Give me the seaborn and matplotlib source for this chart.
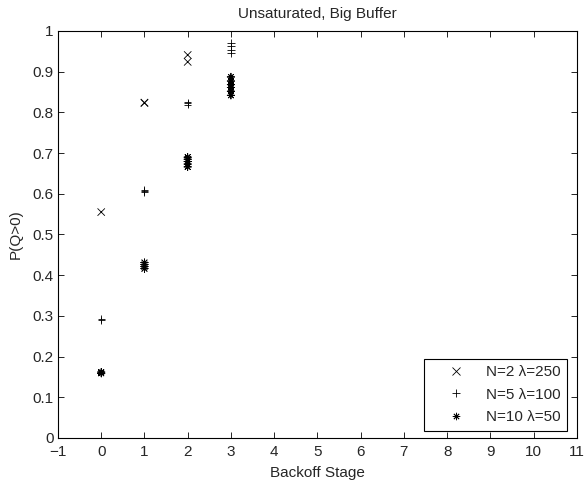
import numpy as np
import pandas as pd
import matplotlib
matplotlib.use("Agg")
import matplotlib.pyplot as plt
import seaborn as sns

series_labels = ["N=2 λ=250", "N=5 λ=100", "N=10 λ=50"]

# backoff stage, P(Q>0) per configuration (several runs per stage)
n2_stage = [0, 1, 1, 2, 2]
n2_prob = [0.555, 0.823, 0.824, 0.924, 0.941]

n5_stage = [0, 0, 1, 1, 1, 2, 2, 2, 3, 3, 3, 3]
n5_prob = [0.289, 0.292, 0.604, 0.607, 0.610, 0.819, 0.822, 0.825,
           0.945, 0.953, 0.962, 0.971]

n10_stage = [0, 0, 1, 1, 1, 1, 2, 2, 2, 2, 2, 3, 3, 3, 3, 3, 3]
n10_prob = [0.159, 0.162, 0.416, 0.421, 0.426, 0.431, 0.666, 0.673, 0.679,
            0.685, 0.690, 0.842, 0.852, 0.861, 0.868, 0.877, 0.887]

df = pd.concat([
    pd.DataFrame({"stage": n2_stage, "p": n2_prob, "series": series_labels[0]}),
    pd.DataFrame({"stage": n5_stage, "p": n5_prob, "series": series_labels[1]}),
    pd.DataFrame({"stage": n10_stage, "p": n10_prob, "series": series_labels[2]}),
])

sns.set_style("ticks")
plt.rcParams["font.family"] = ["Liberation Sans", "DejaVu Sans"]
plt.rcParams["xtick.direction"] = "in"
plt.rcParams["ytick.direction"] = "in"

fs = 11

fig = plt.figure(figsize=(5.85, 4.83), dpi=100)
ax = fig.add_axes([0.0991, 0.0932, 0.887, 0.8427])

marker_map = {series_labels[0]: "x", series_labels[1]: "+", series_labels[2]: (8, 2, 0)}
sns.scatterplot(data=df, x="stage", y="p", hue="series", style="series",
                palette=["black"] * 3, markers=marker_map, s=28,
                linewidth=0.6, ax=ax)

ax.set_xlim(-1, 11)
ax.set_ylim(0, 1)
ax.set_xticks(np.arange(-1, 12, 1))
ax.set_yticks(np.arange(0, 1.01, 0.1))
ax.set_xticklabels(["\u22121"] + [str(i) for i in range(0, 12)])
ax.set_yticklabels(["0"] + [f"{v:.1f}" for v in np.arange(0.1, 0.95, 0.1)] + ["1"])
ax.tick_params(axis="both", which="both", top=True, right=True, length=4,
               width=0.6, labelsize=fs, color="black")
ax.tick_params(axis="x", pad=5)
ax.tick_params(axis="y", pad=3)
for sp in ax.spines.values():
    sp.set_visible(True)
    sp.set_color("black")
    sp.set_linewidth(0.8)

ax.set_xlabel("Backoff Stage", fontsize=fs, labelpad=5)
ax.set_ylabel("P(Q>0)", fontsize=fs, labelpad=7)
ax.set_title("Unsaturated, Big Buffer", fontsize=fs, pad=9)

handles, labels = ax.get_legend_handles_labels()
leg = ax.legend(handles, labels, loc="lower right", bbox_to_anchor=(0.981, 0.017),
                fontsize=fs, frameon=True, fancybox=False, framealpha=1,
                edgecolor="black", borderaxespad=0, handlelength=3.4,
                handletextpad=0.2, borderpad=0.45, labelspacing=0.55)
leg.get_frame().set_linewidth(0.8)

fig.savefig("out.png", dpi=100)
